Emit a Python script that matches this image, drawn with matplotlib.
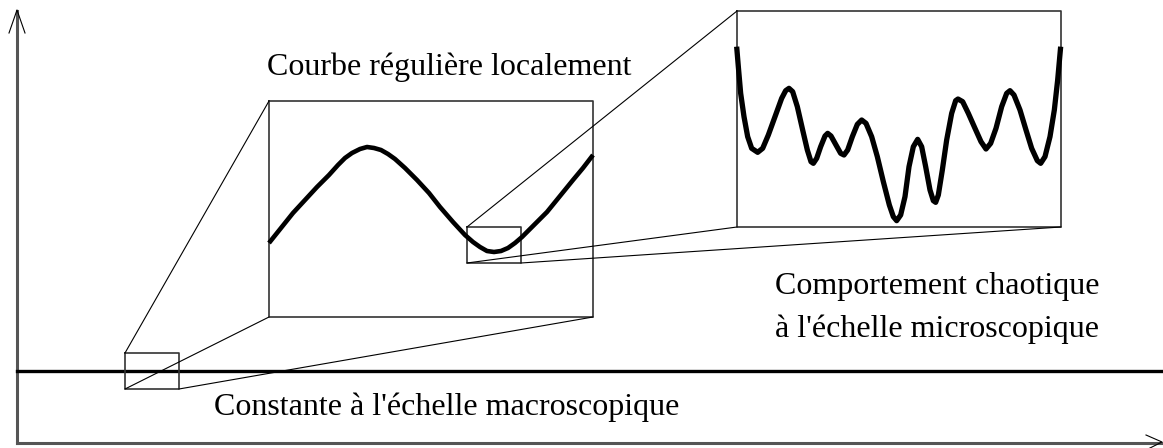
import matplotlib
matplotlib.use("Agg")
import matplotlib.pyplot as plt

# curves, in pixel coords (y down)
smooth_x = [269, 281, 293, 305, 317, 329, 338, 345, 352, 360, 367, 374, 381, 388, 395, 405, 417, 429, 440, 453,
            465, 473, 480, 487, 494, 501, 508, 515, 522, 533, 547, 560, 573, 583, 593]
smooth_y = [243, 228, 213, 200, 187, 175, 165, 158, 153, 149, 147, 148, 150, 154, 159, 168, 180, 193, 207, 222,
            235, 242, 247, 251, 252, 251, 248, 243, 237, 226, 212, 196, 180, 168, 155]

# chaotic curve read in the 3x zoom of the right box (offset 720, 0)
chaos_zx = [50, 55, 62, 72, 83, 95, 113, 128, 145, 165, 185, 197, 207, 218, 232, 248, 262, 273, 280, 290, 302,
            315, 323, 333, 348, 362, 372, 383, 397, 412, 425, 438, 455, 472, 490, 508, 520, 530, 542, 555, 567,
            580, 593, 605, 617, 630, 640, 647, 655, 667, 680, 695, 707, 714, 728, 745, 765, 783, 798, 812, 828,
            845, 860, 870, 882, 900, 918, 935, 952, 962, 975, 990, 1003, 1013, 1022]
chaos_zy = [140, 200, 280, 350, 410, 445, 457, 445, 405, 350, 295, 272, 265, 275, 320, 390, 450, 485, 490, 475, 440,
            408, 400, 408, 435, 460, 465, 450, 410, 373, 360, 370, 410, 470, 545, 615, 650, 662, 645, 590, 500,
            440, 418, 440, 500, 570, 602, 607, 585, 510, 420, 340, 302, 297, 305, 340, 385, 425, 447, 430, 385,
            320, 280, 272, 285, 330, 390, 445, 482, 490, 470, 410, 330, 240, 140]
chaos_x = [720 + v / 3 for v in chaos_zx]
chaos_y = [v / 3 for v in chaos_zy]

label_top = "Courbe régulière localement"
label_right = ["Comportement chaotique", "à l'échelle microscopique"]
label_bottom = "Constante à l'échelle macroscopique"

W, H = 1163, 448
fig = plt.figure(figsize=(W / 100, H / 100), dpi=100)
ax = fig.add_axes([0, 0, 1, 1])
ax.set_xlim(0, W)
ax.set_ylim(H, 0)
ax.axis("off")

thin = 0.8
grey = "#555555"

# axes with open arrow heads
ax.plot([17, 17], [443, 11], color=grey, lw=2.2)
ax.plot([9, 17, 25], [33, 10, 33], color="black", lw=thin)
ax.plot([17, 1162], [443, 443], color=grey, lw=2.2)
ax.plot([1146, 1162, 1146], [435, 442, 450], color="black", lw=thin)

# constant line
ax.plot([17, 1163], [371, 371], color="black", lw=2.4)


def box(x0, y0, x1, y1):
    ax.plot([x0, x1, x1, x0, x0], [y0, y0, y1, y1, y0], color="#333333", lw=1.2)


def link(p, q):
    ax.plot([p[0], q[0]], [p[1], q[1]], color="black", lw=thin)


box(125, 353, 179, 389)
box(269, 101, 593, 317)
box(467, 227, 521, 263)
box(737, 11, 1061, 227)

link((125, 353), (269, 101))
link((125, 389), (269, 317))
link((179, 389), (593, 317))
link((467, 227), (737, 11))
link((467, 263), (737, 227))
link((521, 263), (1061, 227))

ax.plot(smooth_x, smooth_y, color="black", lw=3.3, solid_joinstyle="round", solid_capstyle="butt")
ax.plot(chaos_x, chaos_y, color="black", lw=3.8, solid_joinstyle="round", solid_capstyle="butt")

font = dict(family="Liberation Serif", fontsize=23, color="black", va="baseline", ha="left")
ax.text(267, 75, label_top, **font)
ax.text(775, 294, label_right[0], **font)
ax.text(775, 337, label_right[1], **font)
ax.text(214, 415, label_bottom, **font)

fig.savefig("out.png", dpi=100)
